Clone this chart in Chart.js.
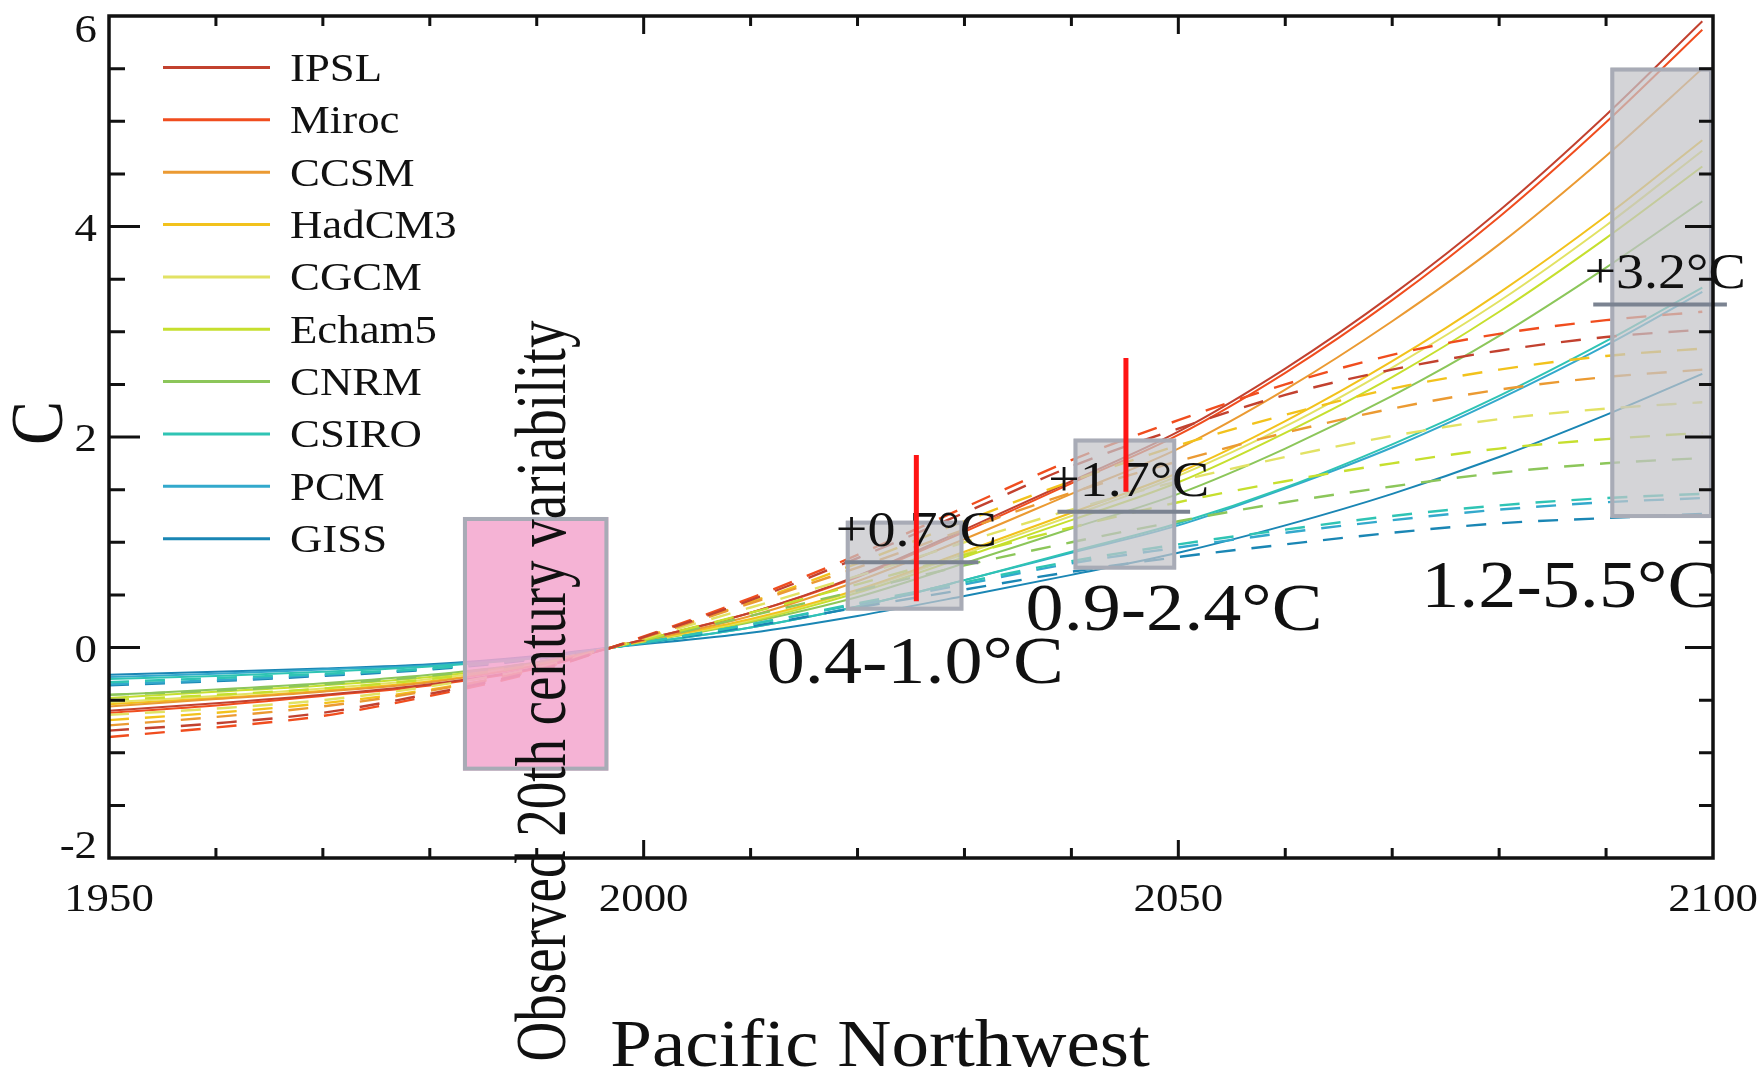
<!DOCTYPE html>
<html><head><meta charset="utf-8">
<script src="https://cdn.jsdelivr.net/npm/chart.js@4.4.1/dist/chart.umd.min.js"></script>
<style>html,body{margin:0;padding:0;background:#fff;}canvas{display:block;}</style>
</head><body>
<canvas id="c" width="1763" height="1073"></canvas>
<script>
// ---------------- data ----------------
const years = [1950,1960,1970,1980,1990,1997,2010,2020,2030,2040,2050,2060,2070,2080,2090,2099];
const modelNames = ['IPSL','Miroc','CCSM','HadCM3','CGCM','Echam5','CNRM','CSIRO','PCM','GISS'];

// solid curves
const solidIPSL   = [-0.60,-0.53,-0.45,-0.35,-0.19,0.0,0.33,0.68,1.12,1.58,2.05,2.65,3.35,4.15,5.06,5.95];
const solidMiroc  = [-0.62,-0.55,-0.46,-0.36,-0.20,0.0,0.33,0.67,1.10,1.56,2.02,2.61,3.30,4.09,4.99,5.87];
const solidCCSM   = [-0.56,-0.49,-0.42,-0.33,-0.17,0.0,0.30,0.63,1.03,1.46,1.89,2.45,3.10,3.83,4.67,5.50];
const solidHadCM3 = [-0.54,-0.48,-0.41,-0.32,-0.17,0.0,0.27,0.55,0.91,1.28,1.66,2.15,2.72,3.37,4.10,4.82];
const solidCGCM   = [-0.52,-0.46,-0.39,-0.30,-0.16,0.0,0.26,0.54,0.89,1.25,1.63,2.10,2.66,3.29,4.01,4.72];
const solidEcham5 = [-0.48,-0.42,-0.36,-0.28,-0.15,0.0,0.25,0.52,0.86,1.21,1.57,2.04,2.57,3.19,3.89,4.57];
const solidCNRM   = [-0.45,-0.40,-0.34,-0.26,-0.14,0.0,0.24,0.48,0.80,1.13,1.46,1.89,2.39,2.96,3.61,4.24];
const solidCSIRO  = [-0.30,-0.27,-0.23,-0.18,-0.10,0.0,0.19,0.39,0.64,0.91,1.18,1.52,1.93,2.39,2.91,3.42];
const solidPCM    = [-0.28,-0.25,-0.21,-0.17,-0.09,0.0,0.19,0.39,0.64,0.90,1.16,1.51,1.90,2.36,2.87,3.38];
const solidGISS   = [-0.26,-0.23,-0.20,-0.16,-0.08,0.0,0.14,0.30,0.49,0.69,0.90,1.16,1.46,1.81,2.21,2.60];

// dashed curves
const dashIPSL   = [-0.79,-0.72,-0.62,-0.44,-0.22,0.0,0.45,0.85,1.28,1.72,2.08,2.40,2.64,2.82,2.95,3.02];
const dashMiroc  = [-0.85,-0.76,-0.65,-0.46,-0.23,0.0,0.47,0.88,1.33,1.78,2.16,2.50,2.78,2.98,3.11,3.19];
const dashCCSM   = [-0.74,-0.66,-0.56,-0.41,-0.21,0.0,0.42,0.76,1.12,1.47,1.77,2.04,2.27,2.45,2.57,2.64];
const dashHadCM3 = [-0.69,-0.62,-0.53,-0.40,-0.21,0.0,0.43,0.80,1.20,1.58,1.92,2.21,2.46,2.64,2.77,2.84];
const dashCGCM   = [-0.64,-0.58,-0.50,-0.37,-0.19,0.0,0.38,0.68,1.00,1.31,1.58,1.81,2.01,2.17,2.27,2.33];
const dashEcham5 = [-0.50,-0.45,-0.39,-0.30,-0.16,0.0,0.33,0.60,0.88,1.14,1.38,1.58,1.75,1.89,1.98,2.04];
const dashCNRM   = [-0.45,-0.41,-0.35,-0.27,-0.14,0.0,0.30,0.54,0.78,1.00,1.20,1.38,1.53,1.66,1.75,1.80];
const dashCSIRO  = [-0.33,-0.29,-0.25,-0.20,-0.10,0.0,0.22,0.42,0.62,0.82,0.98,1.12,1.25,1.35,1.42,1.46];
const dashPCM    = [-0.35,-0.31,-0.26,-0.20,-0.10,0.0,0.22,0.41,0.60,0.80,0.95,1.09,1.21,1.31,1.38,1.42];
const dashGISS   = [-0.36,-0.32,-0.27,-0.21,-0.11,0.0,0.20,0.38,0.55,0.72,0.86,0.98,1.09,1.18,1.23,1.27];

const solidSeries  = [solidIPSL,solidMiroc,solidCCSM,solidHadCM3,solidCGCM,solidEcham5,solidCNRM,solidCSIRO,solidPCM,solidGISS];
const dashedSeries = [dashIPSL,dashMiroc,dashCCSM,dashHadCM3,dashCGCM,dashEcham5,dashCNRM,dashCSIRO,dashPCM,dashGISS];

// axes
const xTickLabels = [1950, 2000, 2050, 2100];
const yTickLabels = [-2, 0, 2, 4, 6];

// annotations (data units)
const obsBox = [1983.1, 1996.7, -1.17, 1.24];
const obsLabel = 'Observed 20th century variability';
const boxStart = [2018.9, 2040.2, 2090.4];
const boxEnd   = [2029.9, 2049.8, 2100.0];
const boxLow   = [0.35, 0.74, 1.23];
const boxHigh  = [1.205, 1.985, 5.51];
const meanStart = [2018.8, 2038.7, 2088.8];
const meanEnd   = [2031.3, 2051.1, 2101.3];
const meanValue = [0.81, 1.29, 3.26];
const meanLabels  = ['+0.7°C', '+1.7°C', '+3.2°C'];
const rangeLabels = ['0.4-1.0°C', '0.9-2.4°C', '1.2-5.5°C'];
const rangeLabelYear  = [2025.4, 2049.6, 2086.6];
const rangeLabelValue = [-0.34, 0.17, 0.385];
const redYear = [2025.5, 2045.1];
const redLow  = [0.44, 1.48];
const redHigh = [1.83, 2.75];

// ---------------- styles ----------------
const modelColors = ['#c2412f','#f04d1e','#eb9a32','#f2c21c','#e2e264','#c6df2e','#8cc65a','#2fc4b4','#33a9cc','#1a86b4'];
const FONT = '"Liberation Serif", "Times New Roman", serif';

const datasets = [];
dashedSeries.forEach((s, i) => datasets.push({
  label: modelNames[i] + ' (dashed)',
  data: years.map((yr, k) => ({x: yr, y: s[k]})),
  borderColor: modelColors[i], borderWidth: 2.4, borderDash: [20, 16],
  pointRadius: 0, fill: false, cubicInterpolationMode: 'monotone'
}));
solidSeries.forEach((s, i) => datasets.push({
  label: modelNames[i],
  data: years.map((yr, k) => ({x: yr, y: s[k]})),
  borderColor: modelColors[i], borderWidth: 2, pointRadius: 0, fill: false,
  cubicInterpolationMode: 'monotone'
}));

function txt(ctx, s, x, y, size, align, rot, sx) {
  ctx.save();
  ctx.translate(x, y);
  ctx.scale(sx || 1.12, 1);
  if (rot) ctx.rotate(rot);
  ctx.font = size + 'px ' + FONT;
  ctx.textAlign = align || 'center';
  ctx.textBaseline = 'alphabetic';
  ctx.fillStyle = '#111';
  ctx.fillText(s, 0, 0);
  ctx.restore();
}

const decor = {
  id: 'decor',
  afterDatasetsDraw(chart) {
    const {ctx, scales: {x, y}} = chart;
    const X = v => x.getPixelForValue(v), Y = v => y.getPixelForValue(v);
    ctx.save();
    const box = (x0, x1, lo, hi, fill) => {
      const l = X(x0), r = X(x1), t = Y(hi), b = Y(lo);
      ctx.fillStyle = fill;
      ctx.fillRect(l, t, r - l, b - t);
      ctx.strokeStyle = '#a8abb6';
      ctx.lineWidth = 4;
      ctx.strokeRect(l + 2, t + 2, r - l - 4, b - t - 4);
    };
    box(obsBox[0], obsBox[1], obsBox[2], obsBox[3], 'rgba(243,166,206,0.86)');
    for (let i = 0; i < boxStart.length; i++) {
      box(boxStart[i], boxEnd[i], boxLow[i], boxHigh[i], 'rgba(196,196,199,0.72)');
    }
    ctx.strokeStyle = '#7b8391';
    ctx.lineWidth = 4;
    for (let i = 0; i < meanValue.length; i++) {
      ctx.beginPath();
      ctx.moveTo(X(meanStart[i]), Y(meanValue[i]));
      ctx.lineTo(X(meanEnd[i]), Y(meanValue[i]));
      ctx.stroke();
    }
    for (let i = 0; i < meanLabels.length; i++) {
      const cx = (X(meanStart[i]) + X(meanEnd[i])) / 2 + 5;
      txt(ctx, meanLabels[i], cx, Y(meanValue[i]) - 16, 50, 'center');
      txt(ctx, rangeLabels[i], X(rangeLabelYear[i]), Y(rangeLabelValue[i]), 68, 'center');
    }
    ctx.strokeStyle = '#ff1414';
    ctx.lineWidth = 5;
    for (let i = 0; i < redYear.length; i++) {
      ctx.beginPath();
      ctx.moveTo(X(redYear[i]), Y(redLow[i]));
      ctx.lineTo(X(redYear[i]), Y(redHigh[i]));
      ctx.stroke();
    }
    ctx.restore();
  },
  afterDraw(chart) {
    const {ctx, chartArea: a, scales: {x, y}} = chart;
    const X = v => x.getPixelForValue(v), Y = v => y.getPixelForValue(v);
    ctx.save();
    ctx.strokeStyle = '#111';
    ctx.lineWidth = 3.5;
    ctx.strokeRect(a.left, a.top, a.right - a.left, a.bottom - a.top);
    ctx.lineWidth = 3;
    ctx.beginPath();
    for (let yr = 1960; yr < 2100; yr += 10) {
      const len = yr % 50 === 0 ? 18 : 10;
      const px = X(yr);
      ctx.moveTo(px, a.bottom); ctx.lineTo(px, a.bottom - len);
      ctx.moveTo(px, a.top); ctx.lineTo(px, a.top + len);
    }
    for (let v = -1.5; v < 6; v += 0.5) {
      const major = Math.abs(v % 2) < 1e-9;
      const py = Y(v);
      ctx.moveTo(a.left, py); ctx.lineTo(a.left + (major ? 31 : 16), py);
      ctx.moveTo(a.right, py); ctx.lineTo(a.right - (major ? 28 : 14), py);
    }
    ctx.stroke();
    // tick labels
    xTickLabels.forEach(v => txt(ctx, String(v), X(v), 911, 40, 'center'));
    yTickLabels.forEach(v => {
      let by = Y(v) + 14;
      by = Math.max(a.top + 26, Math.min(a.bottom, by));
      txt(ctx, String(v), 97, by, 40, 'right');
    });
    // axis titles
    txt(ctx, 'C', 62, 423, 66, 'center', -Math.PI / 2);
    txt(ctx, 'Pacific Northwest', 880, 1066, 67, 'center');
    // legend
    modelNames.forEach((n, i) => {
      const ly = 67.5 + i * 52.35;
      ctx.strokeStyle = modelColors[i];
      ctx.lineWidth = 3;
      ctx.beginPath(); ctx.moveTo(163, ly); ctx.lineTo(270, ly); ctx.stroke();
      txt(ctx, n, 290, ly + 13.5, 40, 'left');
    });
    // vertical observed label
    txt(ctx, obsLabel, 565, 691, 55, 'center', -Math.PI / 2, 1.3);
    ctx.restore();
  }
};

function build() {
  new Chart(document.getElementById('c').getContext('2d'), {
    type: 'line',
    data: { datasets },
    options: {
      responsive: false,
      animation: false,
      devicePixelRatio: 1,
      layout: { padding: { left: 109, top: 16, right: 50, bottom: 215 } },
      scales: {
        x: { type: 'linear', min: 1950, max: 2100, display: false },
        y: { type: 'linear', min: -2, max: 6, display: false }
      },
      plugins: { legend: { display: false }, tooltip: { enabled: false } },
      elements: { point: { radius: 0 } }
    },
    plugins: [decor]
  });
}
const fontReady = (document.fonts && document.fonts.load)
  ? Promise.all([document.fonts.load('40px "Liberation Serif"'), document.fonts.load('40px "Times New Roman"')]).catch(() => null)
  : Promise.resolve();
fontReady.then(build, build);
</script>
</body></html>
